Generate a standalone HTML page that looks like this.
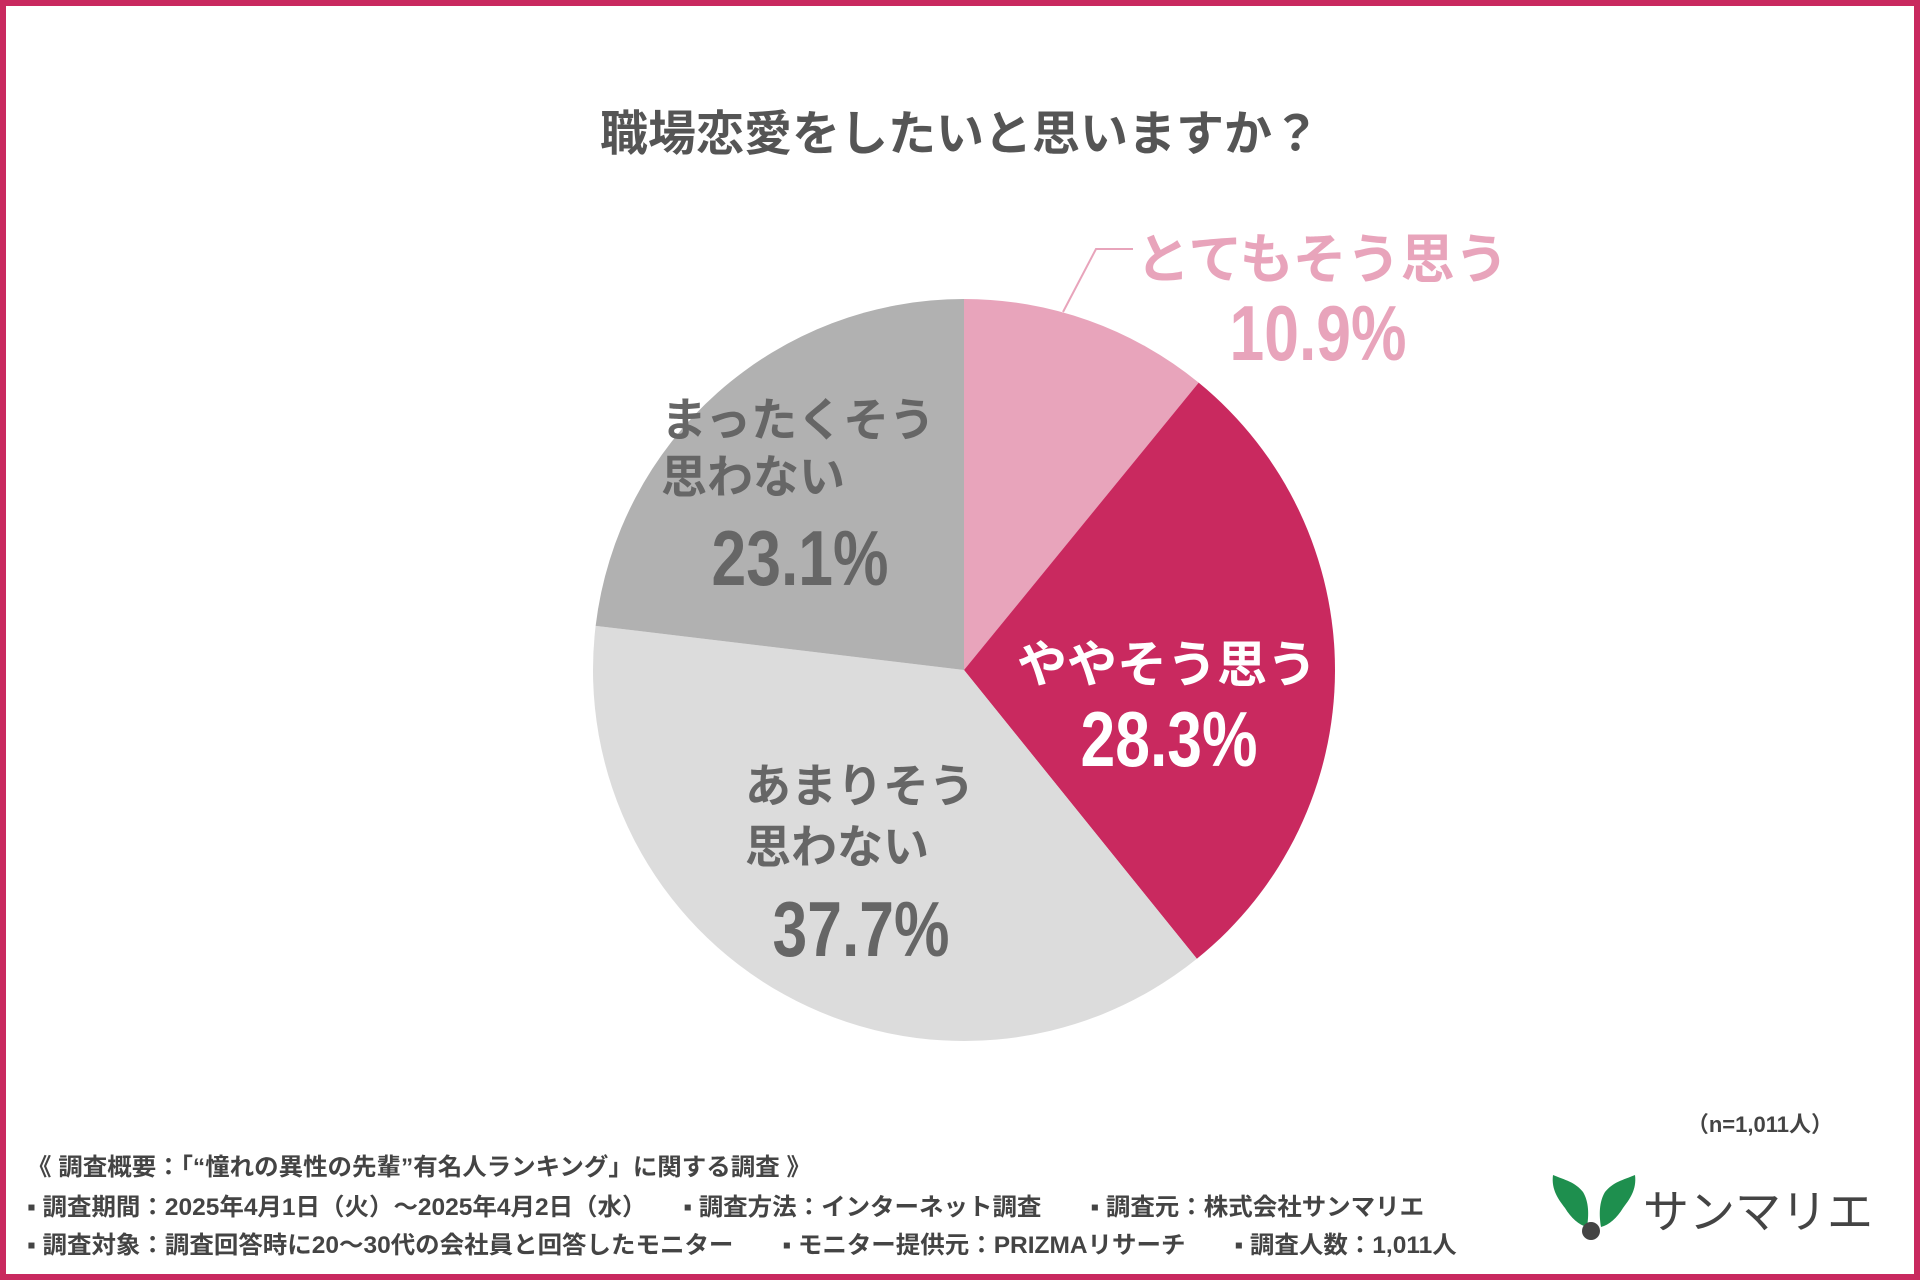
<!DOCTYPE html>
<html><head><meta charset="utf-8"><style>
body{margin:0;width:1920px;height:1280px;overflow:hidden;background:#fff;font-family:"Liberation Sans","Noto Sans CJK JP",sans-serif}
#frame{position:absolute;left:0;top:0;width:1920px;height:1280px;box-sizing:border-box;border:6px solid #c9295f}
.t{position:absolute;white-space:nowrap;font-weight:bold}
.pct{position:absolute;white-space:nowrap;font-weight:bold;transform:translateX(-50%) scaleX(0.8);font-size:78px;line-height:1}
.f{position:absolute;left:27px;font-size:24px;color:#444;font-weight:bold;white-space:nowrap;transform-origin:left;transform:scaleX(1.02)}
</style></head><body>
<div id="frame"></div>
<div class="t" style="left:0;width:1920px;text-align:center;top:94px;font-size:48px;color:#555">職場恋愛をしたいと思いますか？</div>
<svg id="pie" width="1920" height="1280" style="position:absolute;left:0;top:0"></svg>
<div class="t" style="left:1136px;top:215px;font-size:54px;color:#e8a4bb">とてもそう思う</div>
<div class="pct" style="left:1318px;top:294px;color:#e8a4bb">10.9%</div>
<div class="t" style="left:1167px;top:625px;font-size:50px;color:#fff;transform:translateX(-50%)">ややそう思う</div>
<div class="pct" style="left:1169px;top:700px;color:#fff">28.3%</div>
<div class="t" style="left:661px;top:392px;font-size:46px;line-height:57px;color:#666">まったくそう<br>思わない</div>
<div class="pct" style="left:800px;top:519px;color:#666">23.1%</div>
<div class="t" style="left:745px;top:756px;font-size:46px;line-height:61px;color:#666">あまりそう<br>思わない</div>
<div class="pct" style="left:861px;top:890px;color:#666">37.7%</div>
<div class="t" style="right:87px;top:1107px;font-size:22px;color:#444">（n=1,011人）</div>
<div class="f" style="top:1147px">《 調査概要：「“憧れの異性の先輩”有名人ランキング」に関する調査 》</div>
<div class="f" style="top:1187px">▪ 調査期間：2025年4月1日（火）～2025年4月2日（水）　　▪ 調査方法：インターネット調査　　▪ 調査元：株式会社サンマリエ</div>
<div class="f" style="top:1225px">▪ 調査対象：調査回答時に20～30代の会社員と回答したモニター　　▪ モニター提供元：PRIZMAリサーチ　　▪ 調査人数：1,011人</div>
<svg width="100" height="80" style="position:absolute;left:1545px;top:1170px">
<path d="M8,5 C20,10 30,12 38,22 C44,32 44,45 42,57 C34,55 26,48 20,38 C14,30 6,20 8,5Z" fill="#1e8f4e"/>
<path d="M90,5 C78,10 68,12 60,22 C54,32 54,45 56,57 C64,55 72,48 78,38 C84,30 92,20 90,5Z" fill="#1e8f4e"/>
<circle cx="46" cy="61" r="9" fill="#444"/></svg>
<div style="position:absolute;left:1643px;top:1176px;font-size:46px;color:#444;white-space:nowrap">サンマリエ</div>
<script>
const categories=["とてもそう思う","ややそう思う","あまりそう思わない","まったくそう思わない"];
const values=[10.9,28.3,37.7,23.1];
const colors=["#e8a4bb","#c9295f","#dcdcdc","#b1b1b1"];
const svg=document.getElementById('pie');const NS="http://www.w3.org/2000/svg";
const cx=964,cy=670,r=371;const total=values.reduce((a,b)=>a+b,0);
function pt(a){return [cx+r*Math.sin(a),cy-r*Math.cos(a)];}
let a0=0;
values.forEach((v,i)=>{const a1=a0+v/total*2*Math.PI;const p0=pt(a0),p1=pt(a1);
const p=document.createElementNS(NS,'path');
p.setAttribute('d',`M${cx},${cy}L${p0[0]},${p0[1]}A${r},${r} 0 ${a1-a0>Math.PI?1:0} 1 ${p1[0]},${p1[1]}Z`);
p.setAttribute('fill',colors[i]);


svg.appendChild(p);a0=a1;});
const lead=document.createElementNS(NS,'polyline');
lead.setAttribute('points','1063,312 1096,249 1133,249');
lead.setAttribute('fill','none');lead.setAttribute('stroke','#e8a4bb');lead.setAttribute('stroke-width','2');


svg.appendChild(lead);
</script>
</body></html>
